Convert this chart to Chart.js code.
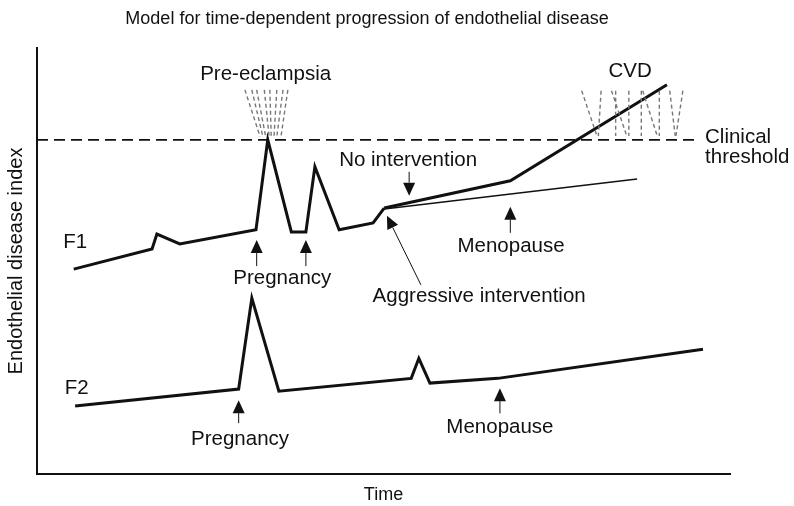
<!DOCTYPE html>
<html>
<head>
<meta charset="utf-8">
<script src="https://cdn.jsdelivr.net/npm/chart.js@4.4.1/dist/chart.umd.min.js"></script>
<style>
  html, body { margin: 0; padding: 0; background: #fff; }
  #wrap { width: 794px; height: 506px; }
</style>
</head>
<body>
<div id="wrap"><canvas id="chart" width="794" height="506"></canvas></div>
<script>
// Schematic values: time 0-100, disease index 0-100
const f1Time  = [5.3, 16.6, 17.3, 20.6, 31.6, 33.3, 36.7, 38.8, 40.1, 43.6, 48.5, 50.1];
const f1Index = [48.1, 52.8, 56.3, 54.0, 57.3, 78.4, 56.8, 56.8, 72.1, 57.3, 58.9, 62.4];

const noInterventionTime  = [50.1, 68.3, 90.9];
const noInterventionIndex = [62.4, 68.8, 91.3];

const aggressiveTime  = [50.1, 86.6];
const aggressiveIndex = [62.2, 69.2];

const f2Time  = [5.5, 29.1, 31.0, 34.9, 54.0, 55.1, 56.7, 66.5, 96.1];
const f2Index = [16.0, 20.0, 41.3, 19.5, 22.5, 27.2, 21.4, 22.5, 29.3];

const thresholdTime  = [0, 94.9];
const thresholdIndex = [78.4, 78.4];

// dashed "events" above the threshold
const fanTopTime    = [30.0, 31.0, 31.7, 32.8, 33.6, 34.6, 35.5, 36.2];
const fanBottomTime = [32.2, 32.6, 33.0, 33.5, 33.8, 34.2, 34.6, 35.2];
const fanIndex      = [90.1, 79.1];

const cvdTopTime    = [78.6, 81.4, 82.9, 83.5, 85.4, 87.2, 87.4, 89.8, 91.3, 93.2];
const cvdBottomTime = [80.8, 81.0, 85.1, 83.5, 85.4, 87.2, 89.5, 89.8, 92.1, 92.2];
const cvdIndex      = [89.9, 79.3];

const pts = (ts, vs) => ts.map((t, i) => ({ x: t, y: vs[i] }));

const annotations = {
  labels: [
    { text: 'Pre-eclampsia', t: 33.0, v: 92.3, align: 'center' },
    { text: 'CVD', t: 85.6, v: 93.2, align: 'center' },
    { text: 'Clinical', t: 96.4, v: 77.7, align: 'left' },
    { text: 'threshold', t: 96.4, v: 73.0, align: 'left' },
    { text: 'No intervention', t: 43.6, v: 72.3, align: 'left' },
    { text: 'Menopause', t: 68.4, v: 52.1, align: 'center' },
    { text: 'Pregnancy', t: 35.4, v: 44.6, align: 'center' },
    { text: 'Aggressive intervention', t: 63.8, v: 40.4, align: 'center' },
    { text: 'Pregnancy', t: 29.3, v: 7.0, align: 'center' },
    { text: 'Menopause', t: 66.8, v: 9.6, align: 'center' },
    { text: 'F1', t: 3.8, v: 53.1, align: 'left' },
    { text: 'F2', t: 4.0, v: 18.8, align: 'left' }
  ],
  arrows: [
    { fromT: 31.7, fromV: 48.8, toT: 31.7, toV: 54.9 },
    { fromT: 38.8, fromV: 48.8, toT: 38.8, toV: 54.9 },
    { fromT: 29.1, fromV: 12.0, toT: 29.1, toV: 17.4 },
    { fromT: 68.3, fromV: 56.6, toT: 68.3, toV: 62.7 },
    { fromT: 66.8, fromV: 14.3, toT: 66.8, toV: 20.2 },
    { fromT: 53.7, fromV: 70.9, toT: 53.7, toV: 65.3 },
    { fromT: 55.4, fromV: 44.4, toT: 50.5, toV: 60.6 }
  ]
};

const annotationPlugin = {
  id: 'annotations',
  afterDatasetsDraw(chart) {
    const { ctx, scales: { x, y } } = chart;
    ctx.save();
    ctx.fillStyle = '#111';
    ctx.strokeStyle = '#111';
    ctx.font = '20.5px "Liberation Sans", Arial, sans-serif';
    ctx.textBaseline = 'alphabetic';
    annotations.labels.forEach(l => {
      ctx.textAlign = l.align;
      ctx.fillText(l.text, x.getPixelForValue(l.t), y.getPixelForValue(l.v));
    });

    annotations.arrows.forEach(a => {
      const x1 = x.getPixelForValue(a.fromT), y1 = y.getPixelForValue(a.fromV);
      const x2 = x.getPixelForValue(a.toT), y2 = y.getPixelForValue(a.toV);
      const ang = Math.atan2(y2 - y1, x2 - x1);
      const head = 13, half = 6;
      const bx = x2 - head * Math.cos(ang), by = y2 - head * Math.sin(ang);
      ctx.lineWidth = 1;
      ctx.beginPath();
      ctx.moveTo(x1, y1);
      ctx.lineTo(bx, by);
      ctx.stroke();
      ctx.beginPath();
      ctx.moveTo(x2, y2);
      ctx.lineTo(bx + half * Math.sin(ang), by - half * Math.cos(ang));
      ctx.lineTo(bx - half * Math.sin(ang), by + half * Math.cos(ang));
      ctx.closePath();
      ctx.fill();
    });
    ctx.restore();
  }
};

const eventStyle = { borderColor: '#777', borderWidth: 1.4, borderDash: [4, 3] };

const datasets = [
  ...fanTopTime.map((t, i) => ({
    data: pts([t, fanBottomTime[i]], fanIndex), ...eventStyle
  })),
  ...cvdTopTime.map((t, i) => ({
    data: pts([t, cvdBottomTime[i]], cvdIndex), ...eventStyle
  })),
  { data: pts(thresholdTime, thresholdIndex), borderColor: '#111', borderWidth: 1.8, borderDash: [11, 6] },
  { data: pts(aggressiveTime, aggressiveIndex), borderColor: '#111', borderWidth: 1.4 },
  { data: pts(f1Time, f1Index), borderColor: '#111', borderWidth: 3 },
  { data: pts(noInterventionTime, noInterventionIndex), borderColor: '#111', borderWidth: 3 },
  { data: pts(f2Time, f2Index), borderColor: '#111', borderWidth: 3 }
];

new Chart(document.getElementById('chart'), {
  type: 'scatter',
  data: { datasets },
  options: {
    responsive: false,
    animation: false,
    showLine: true,
    layout: { padding: { left: 4, right: 64, top: 0, bottom: 0 } },
    elements: {
      point: { radius: 0, hoverRadius: 0 },
      line: { tension: 0, borderJoinStyle: 'miter', fill: false }
    },
    plugins: {
      legend: { display: false },
      tooltip: { enabled: false },
      title: {
        display: true,
        text: 'Model for time-dependent progression of endothelial disease',
        color: '#111',
        font: { family: '"Liberation Sans", Arial, sans-serif', size: 18, weight: 'normal' },
        padding: { top: 8, bottom: 18 }
      }
    },
    scales: {
      x: {
        type: 'linear', min: 0, max: 100,
        grid: { display: false, drawTicks: false },
        ticks: { display: false },
        border: { display: true, color: '#111', width: 2 },
        title: {
          display: true, text: 'Time', color: '#111',
          font: { family: '"Liberation Sans", Arial, sans-serif', size: 18 },
          padding: { top: 10, bottom: 0 }
        }
      },
      y: {
        type: 'linear', min: 0, max: 100,
        grid: { display: false, drawTicks: false },
        ticks: { display: false },
        border: { display: true, color: '#111', width: 2 },
        title: {
          display: true, text: 'Endothelial disease index', color: '#111',
          font: { family: '"Liberation Sans", Arial, sans-serif', size: 20 },
          padding: { top: 0, bottom: 9 }
        }
      }
    }
  },
  plugins: [annotationPlugin]
});
</script>
</body>
</html>
